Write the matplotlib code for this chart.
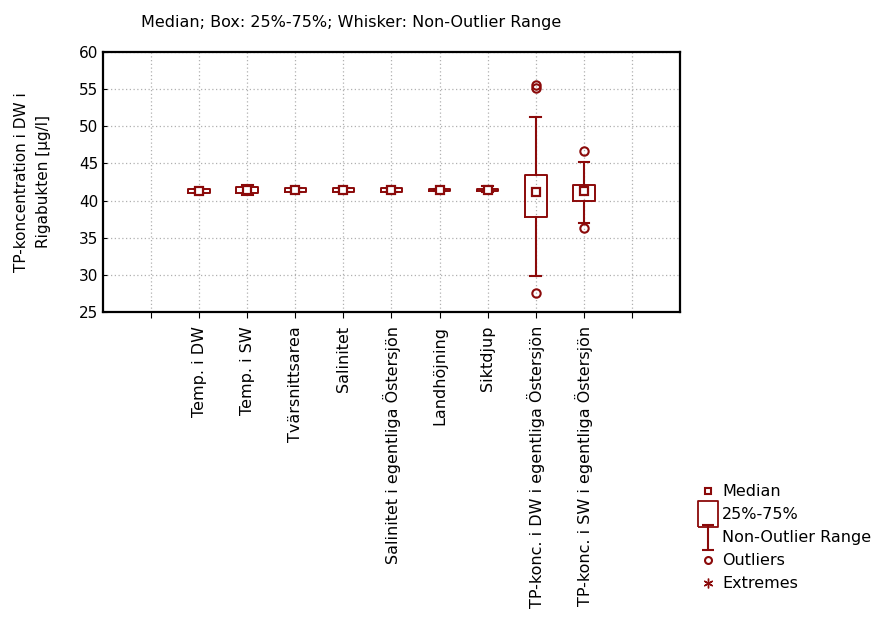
import numpy as np
import matplotlib.pyplot as plt
from matplotlib.lines import Line2D
from matplotlib.path import Path

plt.rcParams['font.family'] = ['DejaVu Sans']

# ----------------------------
# Data
# ----------------------------
categories = ['Temp. i DW', 'Temp. i SW', 'Tvärsnittsarea', 'Salinitet',
              'Salinitet i egentliga Östersjön', 'Landhöjning', 'Siktdjup',
              'TP-konc. i DW i egentliga Östersjön',
              'TP-konc. i SW i egentliga Östersjön']
medians = [41.3, 41.4, 41.45, 41.4, 41.45, 41.4, 41.45, 41.1, 41.35]
q1 = [41.0, 41.0, 41.2, 41.2, 41.2, 41.3, 41.3, 37.75, 40.0]
q3 = [41.6, 41.8, 41.7, 41.7, 41.7, 41.55, 41.55, 43.45, 42.1]
whisk_lo = [41.0, 40.8, 41.2, 41.2, 41.2, 41.3, 41.1, 29.8, 36.95]
whisk_hi = [41.6, 42.1, 41.7, 41.7, 41.7, 41.55, 41.9, 51.3, 45.15]
outliers = [[], [], [], [], [], [], [], [55.2, 55.6, 27.5], [46.7, 36.3]]

color = '#8b0a0a'

stats = []
for i, name in enumerate(categories):
    stats.append({
        'label': name,
        'med': medians[i],
        'mean': medians[i],
        'q1': q1[i],
        'q3': q3[i],
        'whislo': whisk_lo[i],
        'whishi': whisk_hi[i],
        'fliers': outliers[i],
    })

fig = plt.figure(figsize=(8.75, 6.18), dpi=100)
ax = fig.add_axes([103 / 875, 1 - 312 / 618, 577 / 875, 260 / 618])

positions = np.arange(1, len(categories) + 1)
ax.bxp(stats, positions=positions, widths=0.45, capwidths=0.22,
       showmeans=True,
       boxprops=dict(color=color, lw=1.4),
       whiskerprops=dict(color=color, lw=1.5),
       capprops=dict(color=color, lw=1.5),
       medianprops=dict(linestyle='none'),
       meanprops=dict(marker='s', markersize=6, markerfacecolor='white',
                      markeredgecolor=color, markeredgewidth=1.6),
       flierprops=dict(marker='o', markersize=6, markerfacecolor='none',
                       markeredgecolor=color, markeredgewidth=1.5))

# Axes, ticks, grid
ax.set_xlim(-1, 11)
ax.set_ylim(25, 60)
ax.set_yticks(np.arange(25, 61, 5))
ax.set_xticks(np.arange(0, 11))
ax.set_xticklabels([''] + categories + [''], rotation=90, fontsize=11.5)
ax.tick_params(axis='y', labelsize=11, direction='in', length=3)
ax.tick_params(axis='x', direction='out', length=4, pad=6)
ax.grid(True, color='#b0b0b0', linestyle=(0, (1, 2)), lw=0.9)
ax.set_axisbelow(True)
for sp in ax.spines.values():
    sp.set_linewidth(1.6)

ax.set_ylabel('TP-koncentration i DW i\nRigabukten [µg/l]', fontsize=11,
              linespacing=1.6)
ax.yaxis.set_label_coords(-0.09, 0.5)

fig.text(351 / 875, 1 - 22 / 618, 'Median; Box: 25%-75%; Whisker: Non-Outlier Range',
         ha='center', va='center', fontsize=11.5)

# Legend
ibeam = Path([(-0.5, 1), (0.5, 1), (0, 1), (0, -1), (-0.5, -1), (0.5, -1)],
             [Path.MOVETO, Path.LINETO, Path.MOVETO, Path.LINETO,
              Path.MOVETO, Path.LINETO])
box_marker = Path([(-0.38, -0.5), (0.38, -0.5), (0.38, 0.5), (-0.38, 0.5),
                   (-0.38, -0.5)])
handles = [
    Line2D([], [], ls='none', marker='s', markersize=5, markerfacecolor='white',
           markeredgecolor=color, markeredgewidth=1.5),
    Line2D([], [], ls='none', marker=box_marker, markersize=19,
           markerfacecolor='white', markeredgecolor=color, markeredgewidth=1.3),
    Line2D([], [], ls='none', marker=ibeam, markersize=18,
           markeredgecolor=color, markeredgewidth=1.5),
    Line2D([], [], ls='none', marker='o', markersize=5, markerfacecolor='none',
           markeredgecolor=color, markeredgewidth=1.5),
    Line2D([], [], ls='none', marker=(6, 2, 0), markersize=7,
           markeredgecolor=color, markeredgewidth=1.0),
]
labels = ['Median', '25%-75%', 'Non-Outlier Range', 'Outliers', 'Extremes']
fig.legend(handles, labels, loc='upper left',
           bbox_to_anchor=(694 / 875, 1 - 478 / 618), frameon=False,
           fontsize=11.5, handlelength=1.0, handletextpad=0.35,
           labelspacing=0.5, borderaxespad=0)

plt.savefig('out.png', dpi=100)
